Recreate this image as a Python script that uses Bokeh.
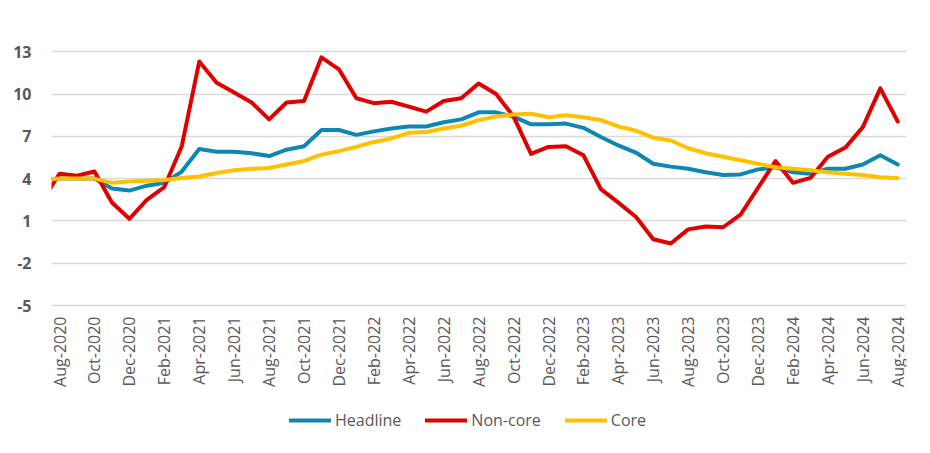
import math
from bokeh.plotting import figure
from bokeh.models import FixedTicker, Legend, LegendItem, Range1d
from bokeh.core.properties import value
from bokeh.embed import file_html
from bokeh.resources import INLINE

months = ["Jul-2020", "Aug-2020", "Sep-2020", "Oct-2020", "Nov-2020", "Dec-2020",
          "Jan-2021", "Feb-2021", "Mar-2021", "Apr-2021", "May-2021", "Jun-2021",
          "Jul-2021", "Aug-2021", "Sep-2021", "Oct-2021", "Nov-2021", "Dec-2021",
          "Jan-2022", "Feb-2022", "Mar-2022", "Apr-2022", "May-2022", "Jun-2022",
          "Jul-2022", "Aug-2022", "Sep-2022", "Oct-2022", "Nov-2022", "Dec-2022",
          "Jan-2023", "Feb-2023", "Mar-2023", "Apr-2023", "May-2023", "Jun-2023",
          "Jul-2023", "Aug-2023", "Sep-2023", "Oct-2023", "Nov-2023", "Dec-2023",
          "Jan-2024", "Feb-2024", "Mar-2024", "Apr-2024", "May-2024", "Jun-2024",
          "Jul-2024", "Aug-2024"]

headline = [3.9, 4.0, 4.0, 4.0, 3.3, 3.15, 3.5, 3.7, 4.5, 6.1, 5.9, 5.9,
            5.8, 5.6, 6.05, 6.3, 7.45, 7.45, 7.1, 7.35, 7.55, 7.7, 7.7, 8.0,
            8.2, 8.7, 8.7, 8.4, 7.85, 7.85, 7.9, 7.6, 6.95, 6.35, 5.85, 5.05,
            4.85, 4.7, 4.45, 4.25, 4.3, 4.65, 4.8, 4.45, 4.35, 4.7, 4.7, 5.0,
            5.65, 5.0]

noncore = [2.4, 4.35, 4.2, 4.5, 2.3, 1.15, 2.5, 3.4, 6.3, 12.3, 10.8, 10.1,
           9.4, 8.2, 9.4, 9.5, 12.6, 11.75, 9.7, 9.35, 9.45, 9.1, 8.75, 9.5,
           9.7, 10.75, 10.0, 8.4, 5.75, 6.25, 6.3, 5.65, 3.25, 2.3, 1.3, -0.3,
           -0.6, 0.4, 0.6, 0.55, 1.45, 3.35, 5.25, 3.7, 4.05, 5.55, 6.2, 7.65,
           10.4, 8.05]

core = [3.9, 4.0, 4.0, 4.0, 3.7, 3.8, 3.85, 3.9, 4.05, 4.15, 4.4, 4.6,
        4.7, 4.75, 5.0, 5.25, 5.7, 5.95, 6.25, 6.6, 6.85, 7.25, 7.3, 7.55,
        7.75, 8.15, 8.4, 8.55, 8.6, 8.35, 8.5, 8.35, 8.15, 7.7, 7.4, 6.9,
        6.7, 6.15, 5.8, 5.55, 5.3, 5.05, 4.8, 4.7, 4.6, 4.45, 4.35, 4.25,
        4.1, 4.05]

y_ticks = [-5, -2, 1, 4, 7, 10, 13]

x = list(range(-1, len(months) - 1))
x_ticks = x[1::2]
x_tick_labels = [months[t + 1] for t in x_ticks]
y_labels = {t: str(t) for t in y_ticks}

FONT = "Open Sans"
GRAY = "#595959"

p = figure(frame_width=855, frame_height=414, output_backend="svg", toolbar_location=None,
           x_range=Range1d(-0.46, 48.5), y_range=Range1d(-14.36, 15),
           min_border_left=51, min_border_right=8, min_border_top=23,
           min_border_bottom=0)
p.outline_line_color = None
p.background_fill_color = "white"
p.border_fill_color = "white"

p.xgrid.grid_line_color = None
p.ygrid.ticker = FixedTicker(ticks=y_ticks)
p.ygrid.grid_line_color = "#D9D9D9"
p.ygrid.grid_line_width = 1.3

p.yaxis.ticker = FixedTicker(ticks=y_ticks)
p.yaxis.major_label_overrides = y_labels
p.yaxis.axis_line_color = None
p.yaxis.major_tick_line_color = None
p.yaxis.minor_tick_line_color = None
p.yaxis.major_label_standoff = 14
p.yaxis.major_label_text_font = FONT
p.yaxis.major_label_text_font_size = "16px"
p.yaxis.major_label_text_font_style = "bold"
p.yaxis.major_label_text_color = GRAY

p.xaxis.visible = False

# category labels under the bottom gridline, rotated as in the original
p.text(x=x_ticks, y=[y_ticks[0]] * len(x_ticks), text=x_tick_labels,
       angle=math.pi / 2, text_align="right", text_baseline="middle",
       y_offset=11, text_font=value(FONT), text_font_size="16px",
       text_color=GRAY)

r1 = p.line(x, headline, line_color="#0E87B2", line_width=4, line_join="round", line_cap="round")
r2 = p.line(x, noncore, line_color="#E00000", line_width=4, line_join="round", line_cap="round")
r3 = p.line(x, core, line_color="#FFC000", line_width=4, line_join="round", line_cap="round")

legend = Legend(items=[LegendItem(label="Headline", renderers=[r1]),
                       LegendItem(label="Non-core", renderers=[r2]),
                       LegendItem(label="Core", renderers=[r3])],
                orientation="horizontal", location=(238, 6),
                glyph_width=42, glyph_height=14, label_standoff=4, spacing=24,
                padding=0, margin=0, border_line_color=None,
                background_fill_alpha=0,
                label_text_font=FONT, label_text_font_size="16px",
                label_text_color=GRAY)
p.add_layout(legend, "center")

open("out.html", "w").write(file_html(p, INLINE))
